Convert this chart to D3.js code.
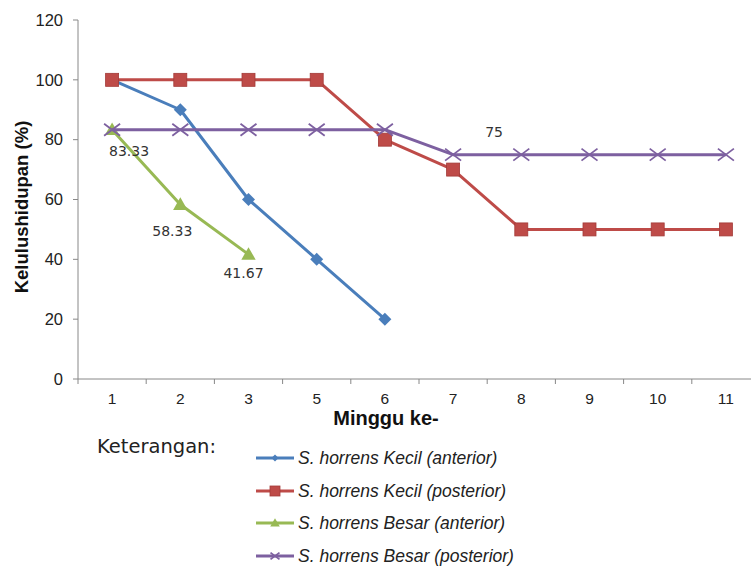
<!DOCTYPE html>
<html><head><meta charset="utf-8">
<script src="https://cdn.jsdelivr.net/npm/d3@7"></script>
<style>body{margin:0;background:#fff}svg{display:block}</style>
</head><body>
<svg id="c" width="751" height="570"></svg>
<script>
const weeks = ["1","2","3","5","6","7","8","9","10","11"];
const yTicks = [0,20,40,60,80,100,120];
const kecilAnterior = [100,90,60,40,20];
const kecilPosterior = [100,100,100,100,80,70,50,50,50,50];
const besarAnterior = [83.33,58.33,41.67];
const besarPosterior = [83.33,83.33,83.33,83.33,83.33,75,75,75,75,75];
const seriesNames = ["S. horrens Kecil (anterior)","S. horrens Kecil (posterior)","S. horrens Besar (anterior)","S. horrens Besar (posterior)"];
const seriesColors = ["#4a7ebb","#be4b48","#98b954","#7d60a0"];
const seriesMarkers = ["diamond","square","triangle","x"];
const dataLabels = [
  {series:2, i:0, text:"83.33", dx:17, dy:26},
  {series:2, i:1, text:"58.33", dx:-8, dy:32},
  {series:2, i:2, text:"41.67", dx:-5, dy:24},
  {series:3, i:5, text:"75", dx:41, dy:-18}
];

const all = [kecilAnterior,kecilPosterior,besarAnterior,besarPosterior];
const svg = d3.select("#c");
const x = d3.scalePoint().domain(weeks).range([78,760]).padding(0.5);
const y = d3.scaleLinear().domain([0,120]).range([379,20]);
const tickFont = "Liberation Sans, Arial, sans-serif";

// axes
const ax = svg.append("g");
ax.append("line").attr("x1",78).attr("x2",760).attr("y1",y(0)).attr("y2",y(0)).attr("stroke","#888").attr("stroke-width",1);
ax.append("line").attr("x1",78).attr("x2",78).attr("y1",y(0)).attr("y2",y(120)).attr("stroke","#888").attr("stroke-width",1);
yTicks.forEach(t=>{
  ax.append("line").attr("x1",73).attr("x2",78).attr("y1",y(t)).attr("y2",y(t)).attr("stroke","#888");
  ax.append("text").attr("x",63).attr("y",y(t)).attr("dy","0.35em").attr("text-anchor","end")
    .attr("font-family",tickFont).attr("font-size",16.5).attr("fill","#222").text(t);
});
const step = x.step();
for(let k=0;k<=weeks.length;k++){
  const xx = 78 + k*step;
  ax.append("line").attr("x1",xx).attr("x2",xx).attr("y1",y(0)).attr("y2",y(0)+5).attr("stroke","#888");
}
weeks.forEach(w=>{
  ax.append("text").attr("x",x(w)).attr("y",y(0)+25).attr("text-anchor","middle")
    .attr("font-family",tickFont).attr("font-size",15.5).attr("fill","#222").text(w);
});
svg.append("text").attr("transform","translate(28,207) rotate(-90)").attr("text-anchor","middle")
  .attr("font-family","Liberation Sans, Arial, sans-serif").attr("font-weight","bold").attr("font-size",18.5).attr("fill","#111")
  .text("Kelulushidupan (%)");
svg.append("text").attr("x",386).attr("y",425).attr("text-anchor","middle")
  .attr("font-family","Liberation Sans, Arial, sans-serif").attr("font-weight","bold").attr("font-size",20).attr("fill","#111")
  .text("Minggu ke-");

function marker(g, type, cx, cy, color, s){
  const h=s/2;
  if(type==="diamond"){
    g.append("path").attr("d",`M${cx},${cy-h}L${cx+h},${cy}L${cx},${cy+h}L${cx-h},${cy}Z`).attr("fill",color);
  } else if(type==="square"){
    g.append("rect").attr("x",cx-h).attr("y",cy-h).attr("width",s).attr("height",s).attr("fill",color).attr("stroke","#a33a37").attr("stroke-width",0.8);
  } else if(type==="triangle"){
    g.append("path").attr("d",`M${cx},${cy-s*0.6}L${cx+s*0.6},${cy+s*0.45}L${cx-s*0.6},${cy+s*0.45}Z`).attr("fill",color);
  } else {
    g.append("path").attr("d",`M${cx-h},${cy-h*0.75}L${cx+h},${cy+h*0.75}M${cx-h},${cy+h*0.75}L${cx+h},${cy-h*0.75}`).attr("stroke",color).attr("stroke-width",1.8).attr("fill","none");
  }
}
const sizes=[13,13,12,16];
const line = d3.line().x((d,i)=>x(weeks[i])).y(d=>y(d));
all.forEach((vals,si)=>{
  const g = svg.append("g");
  g.append("path").attr("d",line(vals)).attr("fill","none").attr("stroke",seriesColors[si]).attr("stroke-width",3).attr("stroke-linejoin","round");
  vals.forEach((v,i)=>marker(g,seriesMarkers[si],x(weeks[i]),y(v),seriesColors[si],sizes[si]));
});
dataLabels.forEach(l=>{
  const v = all[l.series][l.i];
  svg.append("text").attr("x",x(weeks[l.i])+l.dx).attr("y",y(v)+l.dy).attr("text-anchor","middle")
    .attr("font-family","DejaVu Sans, Verdana, sans-serif").attr("font-size",14).attr("fill","#333").text(l.text);
});

// legend
svg.append("text").attr("x",97).attr("y",453).attr("font-family","DejaVu Sans, Verdana, sans-serif").attr("font-size",19.5).attr("fill","#222").text("Keterangan:");
const legY=[458,491,523,556];
const lsz=[7,10,8,9];
seriesNames.forEach((n,i)=>{
  const g=svg.append("g");
  g.append("line").attr("x1",256).attr("x2",294).attr("y1",legY[i]).attr("y2",legY[i]).attr("stroke",seriesColors[i]).attr("stroke-width",3);
  marker(g,seriesMarkers[i],275,legY[i],seriesColors[i],lsz[i]);
  g.append("text").attr("x",298).attr("y",legY[i]).attr("dy","0.35em").attr("font-family","Liberation Sans, Arial, sans-serif")
    .attr("font-style","italic").attr("font-size",17.5).attr("fill","#222").text(n);
});
</script>
</body></html>
